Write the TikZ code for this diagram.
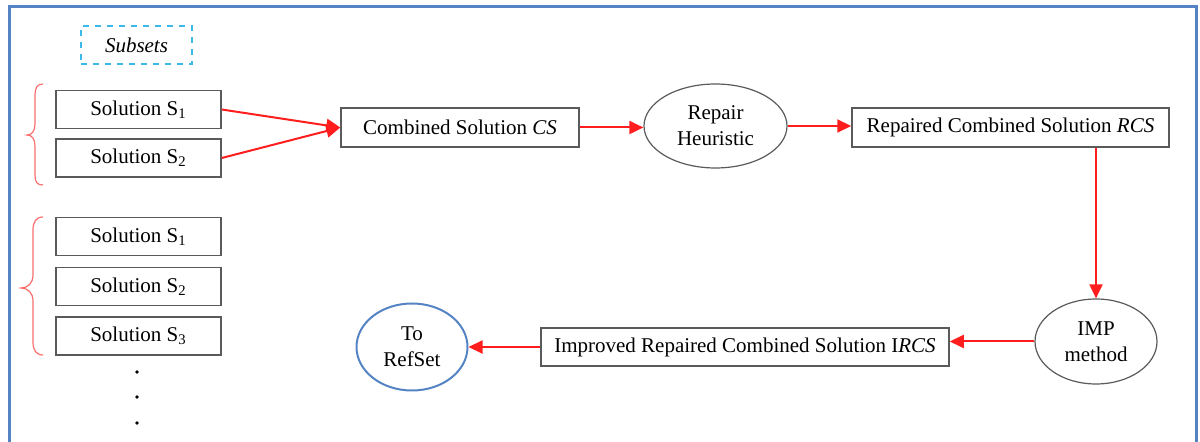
\documentclass[tikz,border=0pt]{standalone}
\usepackage{fontspec}
\setmainfont{Liberation Serif}
\usetikzlibrary{arrows.meta,shapes.geometric}
\definecolor{frameblue}{RGB}{84,132,196}
\definecolor{subsetcyan}{RGB}{60,185,235}
\definecolor{bracered}{RGB}{250,110,110}
\definecolor{boxgray}{RGB}{90,90,90}
\definecolor{flowred}{RGB}{255,30,30}
\tikzset{
  txt/.style={font=\fontsize{10.5}{13}\selectfont, text=black, align=center},
  solbox/.style={txt, draw=boxgray, line width=0.75pt, rectangle, inner sep=0pt,
    minimum width=82.5pt, minimum height=19pt},
  flowbox/.style={txt, draw=boxgray, line width=0.75pt, rectangle, inner sep=0pt,
    minimum height=19.5pt},
  oval/.style={txt, draw=boxgray, line width=0.6pt, ellipse, inner sep=0pt},
  flow/.style={draw=flowred, line width=1pt, -{Triangle[length=7pt,width=6.5pt]}},
  brace/.style={draw=bracered, line width=0.6pt},
  dotmark/.style={circle, fill=black, inner sep=0pt, minimum size=1.8pt}
}
\begin{document}
\begin{tikzpicture}[x=0.5pt, y=-0.5pt]
\useasboundingbox (0,0) rectangle (1200,442);
% outer frame (open at the bottom)
\draw[frameblue, line width=1.5pt] (9,446) -- (9,7) -- (1196,7) -- (1196,446);

% subsets label
\node[txt, draw=subsetcyan, dashed, line width=0.75pt, inner sep=0pt,
  minimum width=55.5pt, minimum height=19pt] (subsets) at (136.5,45) {\textit{Subsets}};

% first subset
\node[solbox] (a1) at (138.5,109.5) {Solution S\textsubscript{1}};
\node[solbox] (a2) at (138.5,158) {Solution S\textsubscript{2}};
\draw[brace] (43,84) .. controls (37,84) and (35,88) .. (35,95) -- (35,124)
  .. controls (35,131) and (32,135) .. (27,135)
  .. controls (32,135) and (35,139) .. (35,146) -- (35,175)
  .. controls (35,182) and (37,185) .. (43,185);

% second subset
\node[solbox] (b1) at (138.5,236.5) {Solution S\textsubscript{1}};
\node[solbox] (b2) at (138.5,286.5) {Solution S\textsubscript{2}};
\node[solbox] (b3) at (138.5,336) {Solution S\textsubscript{3}};
\draw[brace] (43,217) .. controls (36,217) and (33,222) .. (33,230) -- (33,275)
  .. controls (33,283) and (28,288) .. (21,288)
  .. controls (28,288) and (33,293) .. (33,301) -- (33,342)
  .. controls (33,350) and (36,355) .. (43,355);
\node[dotmark] (d1) at (137,372) {};
\node[dotmark] (d2) at (137,397) {};
\node[dotmark] (d3) at (137,423) {};

% main flow
\node[flowbox, minimum width=119pt] (cs) at (460,127.5) {Combined Solution \textit{CS}};
\node[oval, minimum width=71.5pt, minimum height=42pt] (repair) at (715.5,126) {Repair\\Heuristic};
\node[flowbox, minimum width=158.5pt] (rcs) at (1010.5,127.5) {Repaired Combined Solution \textit{RCS}};
\node[oval, minimum width=61pt, minimum height=42.5pt] (imp) at (1096,341.5) {IMP\\method};
\node[flowbox, minimum width=204pt, minimum height=19pt] (ircs) at (745,347) {Improved Repaired Combined Solution I\textit{RCS}};
\node[txt, draw=frameblue, line width=1pt, ellipse, inner sep=0pt,
  minimum width=55.5pt, minimum height=43.5pt] (refset) at (412,347) {To\\RefSet};

% connectors
\draw[flow] (a1.east) -- (cs.west);
\draw[flow] (a2.east) -- (cs.west);
\draw[flow] (cs.east) -- (cs.east -| repair.west);
\draw[flow] (repair.east) -- (repair.east -| rcs.west);
\draw[flow] (rcs.south -| imp.north) -- (imp.north);
\draw[flow] (imp.west) -- (imp.west -| ircs.east);
\draw[flow] (ircs.west) -- (refset.east);
\end{tikzpicture}
\end{document}
